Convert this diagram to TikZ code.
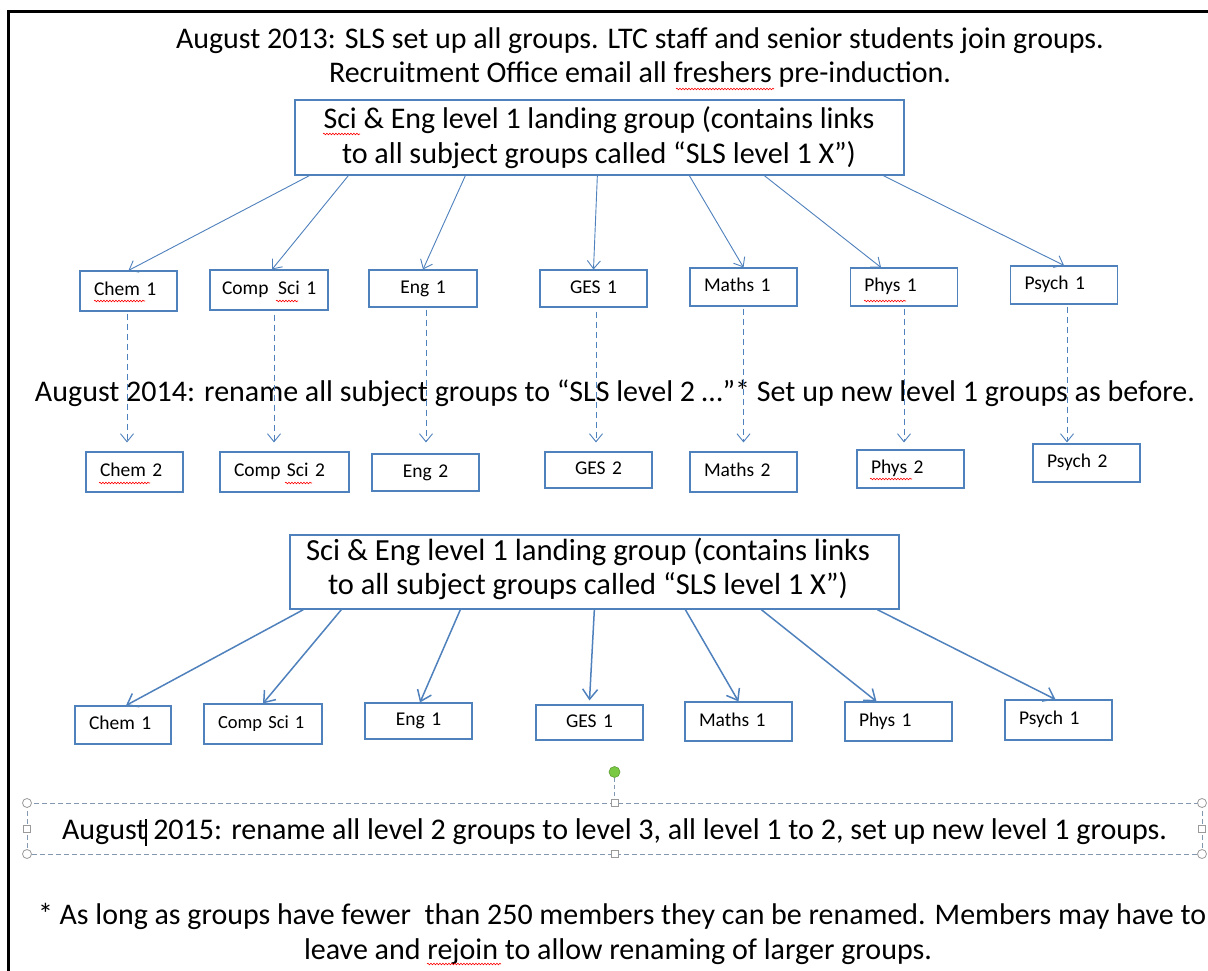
\documentclass[tikz,border=0pt]{standalone}
\usepackage{fontspec}
\setmainfont{Carlito}
\usetikzlibrary{arrows.meta,decorations.pathmorphing,calc}
\definecolor{boxblue}{HTML}{4F81BD}
\definecolor{selc}{HTML}{8497B0}
\definecolor{hndl}{HTML}{9A9A9A}
\definecolor{grn}{HTML}{7AC943}
\definecolor{grnd}{HTML}{5E9E33}
\newlength\fitlen
\newcommand\fitto[2]{\settowidth\fitlen{\fontsize{10}{12}\selectfont #2}\pgfmathsetmacro\fitfs{10*#1/\fitlen}\fontsize{\fitfs}{\fitfs}\selectfont #2}
\begin{document}
\begin{tikzpicture}[x=1pt,y=-1pt,
  txt/.style={inner sep=0pt, anchor=base, text=black},
  land/.style={draw=boxblue, line width=1.3pt, inner sep=0pt},
  lb/.style={draw=boxblue, line width=1.1pt, inner xsep=14pt, inner ysep=0pt,
     font=\fontsize{19.5}{19.5}\selectfont, text height=13pt, text depth=4pt, align=left},
  lbc/.style={lb, align=center},
  arrA/.style={draw=boxblue, line width=0.9pt, -{Straight Barb[length=8pt,width=13pt,line width=0.9pt]}},
  arrC/.style={draw=boxblue, line width=1.5pt, -{Straight Barb[length=10pt,width=15pt,line width=1.5pt]}},
  arrD/.style={draw=boxblue, line width=0.9pt, dash pattern=on 6pt off 4pt, -{Straight Barb[length=8pt,width=13pt,line width=0.9pt]}},
  spell/.style={draw=red, line width=0.6pt, decorate, decoration={snake, segment length=3pt, amplitude=0.8pt}},
]
\useasboundingbox (0,0) rectangle (1208,971);
\fill[white] (0,0) rectangle (1208,971);
% frame
\draw[line width=3pt, line cap=rect] (8,975) -- (8,12) -- (1212,12);

% top texts
\node[txt] (t1) at (640,49) {\fitto{928}{August 2013: SLS set up all groups. LTC staff and senior students join groups.}};
\node[txt] (t2) at (640,83) {\fitto{622}{Recruitment Office email all freshers pre-induction.}};

% landing group 1
\node[land, minimum width=609pt, minimum height=75pt] (land1) at (599.5,137.5) {};
\node[txt] (land1a) at (599,129) {\fitto{551}{Sci \& Eng level 1 landing group (contains links}};
\node[txt] (land1b) at (599,164) {\fitto{514}{to all subject groups called “SLS level 1 X”)}};

% row 1
\node[lb, text width=69pt, minimum height=40pt] (chemA) at (128.5,291) {Chem 1};
\node[lb, inner xsep=12pt, text width=94pt, minimum height=40pt] (compA) at (269,290) {\mbox{Comp\hspace{0.5em}Sci 1}};
\node[lbc, text width=80pt, minimum height=37pt] (engA) at (423,288.5) {Eng 1};
\node[lbc, text width=79pt, minimum height=37pt] (gesA) at (593.5,288.5) {GES 1};
\node[lb, text width=79pt, minimum height=38pt] (mathsA) at (743.5,287) {Maths 1};
\node[lb, text width=79.5pt, minimum height=38pt] (physA) at (904,287) {Phys 1};
\node[lb, text width=79pt, minimum height=38pt] (psychA) at (1064,285) {Psych 1};

\draw[arrA] ([xshift=15pt]land1.south west) -- (chemA.north);
\draw[arrA] ([xshift=54pt]land1.south west) -- ([xshift=3pt]compA.north);
\draw[arrA] ([xshift=171pt]land1.south west) -- (engA.north);
\draw[arrA] ([xshift=303pt]land1.south west) -- (gesA.north);
\draw[arrA] ([xshift=395pt]land1.south west) -- (mathsA.north);
\draw[arrA] ([xshift=470pt]land1.south west) -- ([xshift=-23pt]physA.north);
\draw[arrA] ([xshift=589pt]land1.south west) -- (psychA.north);

% middle text
\node[txt] (aug14) at (615,401) {\fitto{1160}{August 2014: rename all subject groups to “SLS level 2 …”* Set up new level 1 groups as before.}};

% row 2
\node[lb, text width=69pt, minimum height=40pt] (chemB) at (134.5,472) {Chem 2};
\node[lb, text width=101pt, minimum height=40pt] (compB) at (284.5,472) {Comp Sci 2};
\node[lbc, text width=79pt, minimum height=37pt] (engB) at (425.5,472.5) {Eng 2};
\node[lbc, text width=79pt, minimum height=36pt] (gesB) at (598.5,470) {GES 2};
\node[lb, text width=79pt, minimum height=40pt] (mathsB) at (743.5,472) {Maths 2};
\node[lb, text width=79pt, minimum height=38pt] (physB) at (910.5,469) {Phys 2};
\node[lb, text width=79pt, minimum height=38pt] (psychB) at (1086.5,463) {Psych 2};

\draw[arrD, shorten <=2pt, shorten >=9pt] ([xshift=-1.5pt]chemA.south) -- ([xshift=-1.5pt]chemA.south |- chemB.north);
\draw[arrD, shorten <=4pt, shorten >=9pt] ([xshift=5pt]compA.south) -- ([xshift=5pt]compA.south |- compB.north);
\draw[arrD, shorten <=2pt, shorten >=11pt] ([xshift=3pt]engA.south) -- ([xshift=3pt]engA.south |- engB.north);
\draw[arrD, shorten <=4pt, shorten >=9pt] ([xshift=2.5pt]gesA.south) -- ([xshift=2.5pt]gesA.south |- gesB.north);
\draw[arrD, shorten <=2pt, shorten >=9pt] (mathsA.south) -- (mathsA.south |- mathsB.north);
\draw[arrD, shorten <=2pt, shorten >=7pt] (physA.south) -- (physA.south |- physB.north);
\draw[arrD, shorten <=2pt, shorten >=1pt] ([xshift=3pt]psychA.south) -- ([xshift=3pt]psychA.south |- psychB.north);

% landing group 2
\node[land, minimum width=609pt, minimum height=74pt] (land2) at (594.5,572) {};
\node[txt] (land2a) at (588,560) {\fitto{564}{Sci \& Eng level 1 landing group (contains links}};
\node[txt] (land2b) at (588,594) {\fitto{520}{to all subject groups called “SLS level 1 X”)}};

% row 3
\node[lb, text width=68pt, minimum height=38pt] (chemC) at (123,725) {Chem 1};
\node[lb, inner xsep=14pt, text width=90pt, minimum height=40pt, font=\fontsize{18.5}{18.5}\selectfont] (compC) at (263,724) {Comp Sci 1};
\node[lbc, text width=79pt, minimum height=36pt] (engC) at (418.5,721) {Eng 1};
\node[lbc, text width=79pt, minimum height=35pt] (gesC) at (589.5,722.5) {GES 1};
\node[lb, text width=79pt, minimum height=39pt] (mathsC) at (738.5,721.5) {Maths 1};
\node[lb, text width=79pt, minimum height=39pt] (physC) at (898.5,721.5) {Phys 1};
\node[lb, text width=79pt, minimum height=40pt] (psychC) at (1058.5,720) {Psych 1};

\draw[arrC] ([xshift=14pt]land2.south west) -- ([xshift=3pt]chemC.north);
\draw[arrC] ([xshift=52pt]land2.south west) -- (compC.north);
\draw[arrC] ([xshift=171pt]land2.south west) -- ([xshift=1.5pt]engC.north);
\draw[arrC] ([xshift=305pt]land2.south west) -- ([yshift=4pt]gesC.north);
\draw[arrC] ([xshift=396pt]land2.south west) -- (mathsC.north);
\draw[arrC] ([xshift=472pt]land2.south west) -- ([xshift=-22pt]physC.north);
\draw[arrC] ([xshift=588pt]land2.south west) -- ([xshift=-3pt]psychC.north);

% selected text box (editing artefacts)
\draw[selc, line width=0.9pt, dash pattern=on 5pt off 3pt] (27,803) rectangle (1202,854);
\draw[selc, line width=0.9pt, dash pattern=on 4pt off 3pt] (614.5,777.5) -- (614.5,799.5);
\foreach \p in {(27,803),(1202,803),(27,854),(1202,854)}
  \draw[hndl, fill=white, line width=0.8pt] \p circle (4.5pt);
\foreach \p in {(614.5,803),(614.5,854),(27,828.5),(1202,828.5)}
  \draw[hndl, fill=white, line width=0.8pt] \p ++(-3.5,-3.5) rectangle ++(7,7);
\draw[grnd, fill=grn, line width=0.6pt] (614.5,772) circle (5.5pt);

\node[txt] (aug15) at (614.5,839) {\fitto{1105}{August 2015: rename all level 2 groups to level 3, all level 1 to 2, set up new level 1 groups.}};
\draw[line width=1.6pt] (146,819) -- (146,846);

% footnote
\node[txt] (foot1) at (622,924) {\fitto{1168}{* As long as groups have fewer\ \ than 250 members they can be renamed. Members may have to}};
\node[txt] (foot2) at (618,959) {\fitto{628}{leave and rejoin to allow renaming of larger groups.}};

% spell-check underlines
\draw[spell] (323,134) -- (360,134);
\draw[spell] (676,89) -- (774,89);
\draw[spell] (94,301) -- (145,301);
\draw[spell] (276,301) -- (298,301);
\draw[spell] (864,301) -- (906,301);
\draw[spell] (99,483) -- (150,483);
\draw[spell] (285,483) -- (312,483);
\draw[spell] (870,479) -- (912,479);
\draw[spell] (427,964) -- (501,964);
\end{tikzpicture}
\end{document}
